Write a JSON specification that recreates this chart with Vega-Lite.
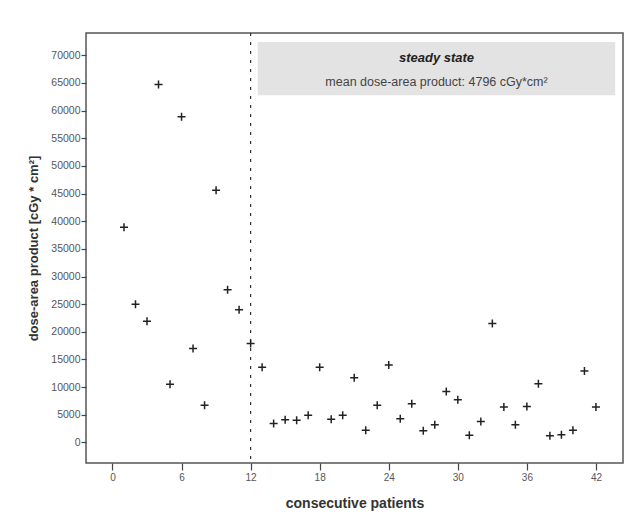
{
  "$schema": "https://vega.github.io/schema/vega-lite/v6.json",
  "width": 537,
  "height": 430,
  "autosize": "none",
  "padding": {"left": 86, "top": 33, "right": 12, "bottom": 60},
  "background": "white",
  "config": {
    "font": "Liberation Sans",
    "view": {"stroke": "#555555", "strokeWidth": 1.5}
  },
  "datasets": {
    "patients": [
      {"patient": 1, "dap": 38900}, {"patient": 2, "dap": 25000}, {"patient": 3, "dap": 21900},
      {"patient": 4, "dap": 64700}, {"patient": 5, "dap": 10500}, {"patient": 6, "dap": 58900},
      {"patient": 7, "dap": 17000}, {"patient": 8, "dap": 6700}, {"patient": 9, "dap": 45600},
      {"patient": 10, "dap": 27600}, {"patient": 11, "dap": 24000}, {"patient": 12, "dap": 17900},
      {"patient": 13, "dap": 13600}, {"patient": 14, "dap": 3400}, {"patient": 15, "dap": 4100},
      {"patient": 16, "dap": 4000}, {"patient": 17, "dap": 4900}, {"patient": 18, "dap": 13600},
      {"patient": 19, "dap": 4200}, {"patient": 20, "dap": 4900}, {"patient": 21, "dap": 11700},
      {"patient": 22, "dap": 2200}, {"patient": 23, "dap": 6700}, {"patient": 24, "dap": 14000},
      {"patient": 25, "dap": 4300}, {"patient": 26, "dap": 7000}, {"patient": 27, "dap": 2100},
      {"patient": 28, "dap": 3200}, {"patient": 29, "dap": 9200}, {"patient": 30, "dap": 7700},
      {"patient": 31, "dap": 1300}, {"patient": 32, "dap": 3800}, {"patient": 33, "dap": 21500},
      {"patient": 34, "dap": 6400}, {"patient": 35, "dap": 3200}, {"patient": 36, "dap": 6500},
      {"patient": 37, "dap": 10600}, {"patient": 38, "dap": 1200}, {"patient": 39, "dap": 1400},
      {"patient": 40, "dap": 2200}, {"patient": 41, "dap": 12900}, {"patient": 42, "dap": 6400}
    ],
    "box": [
      {"x1": 12.62, "x2": 43.67, "y1": 62780, "y2": 72400}
    ]
  },
  "encoding": {
    "x": {
      "type": "quantitative",
      "scale": {"domain": [-2.3, 44.35], "nice": false, "zero": false},
      "axis": {
        "title": "consecutive patients", "values": [0, 6, 12, 18, 24, 30, 36, 42],
        "grid": false, "domain": false, "tickColor": "#444444", "tickSize": 7, "tickWidth": 1.2,
        "labelFontSize": 10, "labelColor": "#555555", "labelPadding": 2,
        "titleFontSize": 14, "titleFontWeight": "bold", "titleColor": "#333333", "titlePadding": 14
      }
    },
    "y": {
      "type": "quantitative",
      "scale": {"domain": [-3720, 74030], "nice": false, "zero": false},
      "axis": {
        "title": "dose-area product [cGy * cm²]",
        "values": [0, 5000, 10000, 15000, 20000, 25000, 30000, 35000, 40000, 45000, 50000, 55000, 60000, 65000, 70000],
        "format": "d",
        "grid": false, "domain": false, "tickColor": "#444444", "tickSize": 5, "tickWidth": 1.2,
        "labelFontSize": 10.5, "labelColor": "#555555", "labelPadding": 1,
        "titleFontSize": 13, "titleFontWeight": "bold", "titleColor": "#333333", "titlePadding": 10
      }
    }
  },
  "layer": [
    {
      "data": {"name": "box"},
      "mark": {"type": "rect", "color": "#e3e3e3"},
      "encoding": {
        "x": {"field": "x1", "type": "quantitative"},
        "x2": {"field": "x2"},
        "y": {"field": "y1", "type": "quantitative"},
        "y2": {"field": "y2"}
      }
    },
    {
      "data": {"name": "box"},
      "mark": {"type": "text", "text": "steady state", "fontSize": 13, "fontWeight": "bold", "fontStyle": "italic", "color": "#222222", "baseline": "middle", "align": "center"},
      "encoding": {
        "x": {"datum": 28.15, "type": "quantitative"},
        "y": {"datum": 69500, "type": "quantitative"}
      }
    },
    {
      "data": {"name": "box"},
      "mark": {"type": "text", "text": "mean dose-area product: 4796 cGy*cm²", "fontSize": 12.5, "color": "#444444", "baseline": "middle", "align": "center"},
      "encoding": {
        "x": {"datum": 28.15, "type": "quantitative"},
        "y": {"datum": 65250, "type": "quantitative"}
      }
    },
    {
      "data": {"name": "box"},
      "mark": {"type": "rule", "color": "#333333", "strokeWidth": 1.2, "strokeDash": [3, 6]},
      "encoding": {
        "x": {"datum": 12, "type": "quantitative"},
        "y": null
      }
    },
    {
      "data": {"name": "patients"},
      "mark": {"type": "point", "shape": "M-1,0H1M0,-1V1", "size": 64, "filled": false, "stroke": "#222222", "strokeWidth": 1.5, "opacity": 1},
      "encoding": {
        "x": {"field": "patient", "type": "quantitative"},
        "y": {"field": "dap", "type": "quantitative"}
      }
    }
  ]
}
